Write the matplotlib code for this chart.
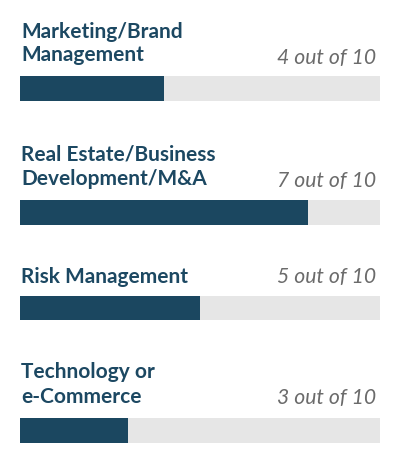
import matplotlib
matplotlib.use("Agg")
import matplotlib.pyplot as plt

# ---- data ----
categories = ["Marketing/Brand\nManagement",
              "Real Estate/Business\nDevelopment/M&A",
              "Risk Management",
              "Technology or\ne-Commerce"]
bar_values = [4, 8, 5, 3]          # bar lengths as drawn
score_labels = ["4 out of 10", "7 out of 10", "5 out of 10", "3 out of 10"]
max_value = 10

# ---- layout (pixels) ----
W, H = 401, 473
DPI = 100
left_px, right_px = 20, 380
bar_tops = [76.5, 200, 295.5, 418]
bar_h = 24.5
label_baselines = [[38, 61], [160.5, 185], [283], [378, 403]]
value_baselines = [64, 187, 283, 404]
value_right_px = 376
label_left_px = 21

dark = "#1b4760"
label_col = "#1c4862"
track = "#e6e6e6"
value_col = "#6b6b6b"

fig = plt.figure(figsize=(W / DPI, H / DPI), dpi=DPI)
ax = fig.add_axes([0, 0, 1, 1])
unit = (right_px - left_px) / max_value
ax.set_xlim(-left_px / unit, (W - left_px) / unit)
ax.set_ylim(H, 0)
ax.axis("off")

for i, (cat, v, s) in enumerate(zip(categories, bar_values, score_labels)):
    yc = bar_tops[i] + bar_h / 2
    ax.barh(yc, max_value, height=bar_h, left=0, color=track, linewidth=0)
    ax.barh(yc, v, height=bar_h, left=0, color=dark, linewidth=0)
    for line, yb in zip(cat.split("\n"), label_baselines[i]):
        ax.text((label_left_px - left_px) / unit, yb, line, ha="left", va="baseline",
                fontsize=15, fontweight="bold", family=["Lato", "DejaVu Sans"],
                color=label_col)
    ax.text((value_right_px - left_px) / unit, value_baselines[i], s,
            ha="right", va="baseline", fontsize=15.2, fontstyle="italic",
            family=["Lato", "DejaVu Sans"], color=value_col)

fig.savefig("out.png", dpi=DPI)
